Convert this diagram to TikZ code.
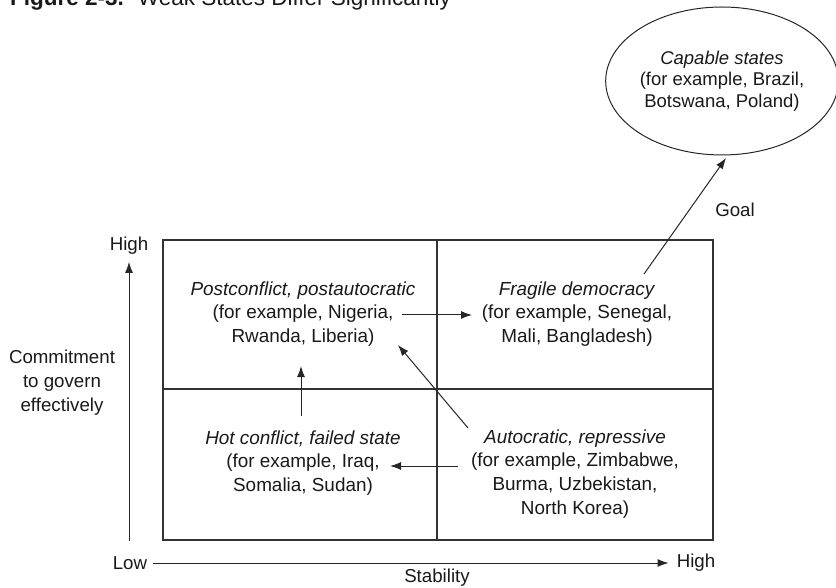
\documentclass[tikz,border=0pt]{standalone}
\usepackage{fontspec}
\setmainfont{Liberation Sans}
\usetikzlibrary{arrows.meta,shapes.geometric}
\begin{document}
\begin{tikzpicture}[x=1pt,y=-1pt,
  every node/.style={inner sep=0pt, text=black!90},
  lbl/.style={font=\fontsize{18.7}{24}\selectfont, align=center},
  quad/.style={font=\fontsize{18.9}{23.8}\selectfont, align=center},
  ln/.style={draw=black!80, line width=1.1pt},
  arr/.style={draw=black!85, line width=1pt, -{Latex[length=11pt,width=8pt]}}]
\useasboundingbox (0,0) rectangle (836,588);
% title (cut at the top edge)
\node[anchor=base west, font=\fontsize{22.5}{26}\selectfont] (title) at (10,6)
  {\textbf{Figure 2-3.}\hspace{14pt}Weak States Differ Significantly};
% grid
\draw[ln] (163,240) rectangle (713,540);
\draw[ln] (437,240) -- (437,540);
\draw[ln] (163,389) -- (713,389);
% quadrant texts
\node[quad] (tl) at (303,314) {\textit{Postconflict, postautocratic}\\(for example, Nigeria,\\Rwanda, Liberia)};
\node[quad] (tr) at (577,314) {\textit{Fragile democracy}\\(for example, Senegal,\\Mali, Bangladesh)};
\node[quad] (bl) at (303,463) {\textit{Hot conflict, failed state}\\(for example, Iraq,\\Somalia, Sudan)};
\node[quad] (br) at (575,474) {\textit{Autocratic, repressive}\\(for example, Zimbabwe,\\Burma, Uzbekistan,\\North Korea)};
% ellipse
\node[ellipse, draw=black!85, line width=1pt, minimum width=226pt, minimum height=148pt,
      font=\fontsize{18.5}{21.5}\selectfont, align=center] (cap) at (722,81)
  {\textit{Capable states}\\(for example, Brazil,\\Botswana, Poland)};
\node[lbl] (goal) at (735,210) {Goal};
% axes labels
\node[lbl] (vhigh) at (129,246) {High};
\node[lbl] (commit) at (62,383) {Commitment\\to govern\\effectively};
\node[lbl] (low) at (130,563) {Low};
\node[lbl] (hhigh) at (696,563) {High};
\node[lbl] (stab) at (437,578) {Stability};
% coordinates for arrows
\coordinate (vbot) at (129,541);
\coordinate (ra1) at (402,315); \coordinate (ra2) at (472,315);
\coordinate (ua1) at (301,416); \coordinate (ua2) at (301,366);
\coordinate (la1) at (458,466); \coordinate (la2) at (390,466);
\coordinate (da1) at (468,428); \coordinate (da2) at (398,345);
\coordinate (ga1) at (644,274); \coordinate (ga2) at (726,158);
% axes
\draw[arr] (vbot) -- ([yshift=-7pt]vhigh.south);
\draw[arr] ([xshift=6pt]low.east) -- ([xshift=-8pt]hhigh.west);
% transition arrows
\draw[arr] (ra1) -- (ra2);
\draw[arr] (ua1) -- (ua2);
\draw[arr] (la1) -- (la2);
\draw[arr] (da1) -- (da2);
\draw[arr] (ga1) -- (ga2);
\end{tikzpicture}
\end{document}
